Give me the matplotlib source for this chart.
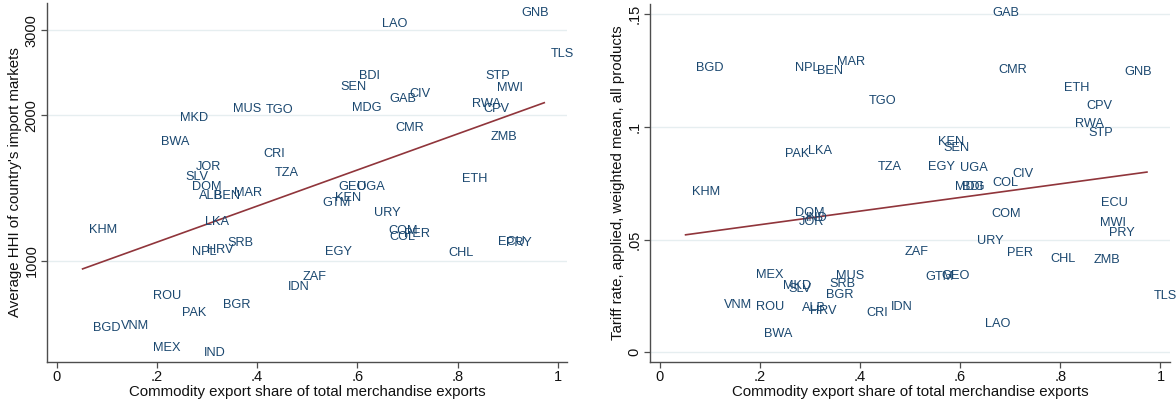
import numpy as np
import matplotlib
matplotlib.use("Agg")
import matplotlib.pyplot as plt
from matplotlib.ticker import FixedLocator, FixedFormatter, NullLocator

plt.rcParams['font.family'] = ['Liberation Sans', 'DejaVu Sans']

codes = ["GNB","LAO","TLS","BDI","SEN","STP","MWI","GAB","CIV","MDG","RWA","CPV","CMR","ZMB",
         "ETH","GEO","UGA","KEN","GTM","URY","COM","COL","PER","EGY","CHL","ECU","PRY","ZAF",
         "IDN","MKD","MUS","TGO","BWA","CRI","JOR","TZA","SLV","DOM","ALB","BEN","MAR","KHM",
         "LKA","NPL","HRV","SRB","ROU","BGR","PAK","BGD","VNM","MEX","IND"]

commodity_share = [0.914,0.636,0.973,0.591,0.553,0.843,0.866,0.652,0.691,0.577,0.816,0.839,0.663,0.853,
                   0.795,0.550,0.587,0.543,0.517,0.620,0.650,0.651,0.680,0.522,0.768,0.868,0.884,0.477,
                   0.448,0.234,0.339,0.405,0.195,0.400,0.264,0.423,0.244,0.258,0.271,0.302,0.341,0.052,
                   0.284,0.258,0.288,0.327,0.179,0.319,0.237,0.059,0.115,0.180,0.280]

hhi = [3264,3096,2676,2417,2294,2417,2283,2160,2215,2075,2109,2059,1881,1803,
       1478,1423,1423,1348,1320,1259,1154,1123,1136,1045,1037,1096,1088,928,
       885,1976,2062,2052,1762,1665,1565,1521,1492,1423,1363,1363,1382,1159,
       1206,1042,1054,1088,846,811,779,726,735,660,646]

tariff = [0.1245,0.0126,0.0251,0.0735,0.0908,0.0972,0.0572,0.1507,0.0790,0.0735,0.1013,0.1094,0.1252,0.0410,
          0.1174,0.0340,0.0819,0.0934,0.0335,0.0495,0.0612,0.0752,0.0439,0.0823,0.0414,0.0664,0.0528,0.0444,
          0.0202,0.0295,0.0340,0.1116,0.0081,0.0176,0.0577,0.0823,0.0280,0.0617,0.0198,0.1249,0.1289,0.0710,
          0.0893,0.1261,0.0185,0.0302,0.0202,0.0254,0.0880,0.1261,0.0210,0.0343,0.0594]

x_ticks = [0, 0.2, 0.4, 0.6, 0.8, 1.0]
x_tick_labels = ["0", ".2", ".4", ".6", ".8", "1"]
hhi_ticks = [1000, 2000, 3000]
hhi_tick_labels = ["1000", "2000", "3000"]
tariff_ticks = [0, 0.05, 0.10, 0.15]
tariff_tick_labels = ["0", ".05", ".1", ".15"]

x_title = "Commodity export share of total merchandise exports"
hhi_title = "Average HHI of country's import markets"
tariff_title = "Tariff rate, applied, weighted mean, all products"

NAVY = "#1a476f"
MAROON = "#90353b"
GRID = "#e6eef0"
AXC = "#4d4d4d"

fig = plt.figure(figsize=(11.76, 4.03), dpi=100)
ax1 = fig.add_axes([47/1176, 1 - 361.7/403, 520.3/1176, 358.7/403])
ax2 = fig.add_axes([650/1176, 1 - 361.7/403, 520/1176, 357.7/403])

xs = np.array(commodity_share)

def style(ax):
    for s in ["top", "right"]:
        ax.spines[s].set_visible(False)
    for s in ["left", "bottom"]:
        ax.spines[s].set_color(AXC)
        ax.spines[s].set_linewidth(1.0)
    ax.tick_params(axis='both', direction='out', length=4, width=0.9, color=AXC,
                   labelsize=10.5, labelcolor='#111111', pad=2)
    ax.set_xlim(-0.019, 1.019)
    ax.xaxis.set_major_locator(FixedLocator(x_ticks))
    ax.xaxis.set_major_formatter(FixedFormatter(x_tick_labels))
    ax.set_xlabel(x_title, fontsize=10.8, color='#111111', labelpad=1)
    ax.grid(axis='y', color=GRID, linewidth=1.0)
    ax.set_axisbelow(True)

def labels(ax, ys):
    for c, xv, yv in zip(codes, xs, ys):
        ax.annotate(c, (xv, yv), xytext=(4.7, 0), textcoords='offset points',
                    ha='left', va='center', fontsize=9.2, color=NAVY)

# Left panel
style(ax1)
ax1.set_yscale('log')
ax1.set_ylim(619, 3417)
ax1.yaxis.set_major_locator(FixedLocator(hhi_ticks))
ax1.yaxis.set_major_formatter(FixedFormatter(hhi_tick_labels))
ax1.yaxis.set_minor_locator(NullLocator())
plt.setp(ax1.get_yticklabels(), rotation=90, va='center')
ax1.set_ylabel(hhi_title, fontsize=10.8, color='#111111', labelpad=2)
labels(ax1, hhi)
b1 = np.polyfit(xs, np.log10(hhi), 1)
xf = np.linspace(xs.min(), xs.max(), 50)
ax1.plot(xf, 10 ** np.polyval(b1, xf), color=MAROON, lw=1.2)

# Right panel
style(ax2)
ax2.set_ylim(-0.0042, 0.1545)
ax2.yaxis.set_major_locator(FixedLocator(tariff_ticks))
ax2.yaxis.set_major_formatter(FixedFormatter(tariff_tick_labels))
plt.setp(ax2.get_yticklabels(), rotation=90, va='center')
ax2.set_ylabel(tariff_title, fontsize=10.8, color='#111111', labelpad=2)
labels(ax2, tariff)
b2 = np.polyfit(xs, np.array(tariff), 1)
ax2.plot(xf, np.polyval(b2, xf), color=MAROON, lw=1.2)

fig.savefig("out.png", dpi=100, facecolor='white')
